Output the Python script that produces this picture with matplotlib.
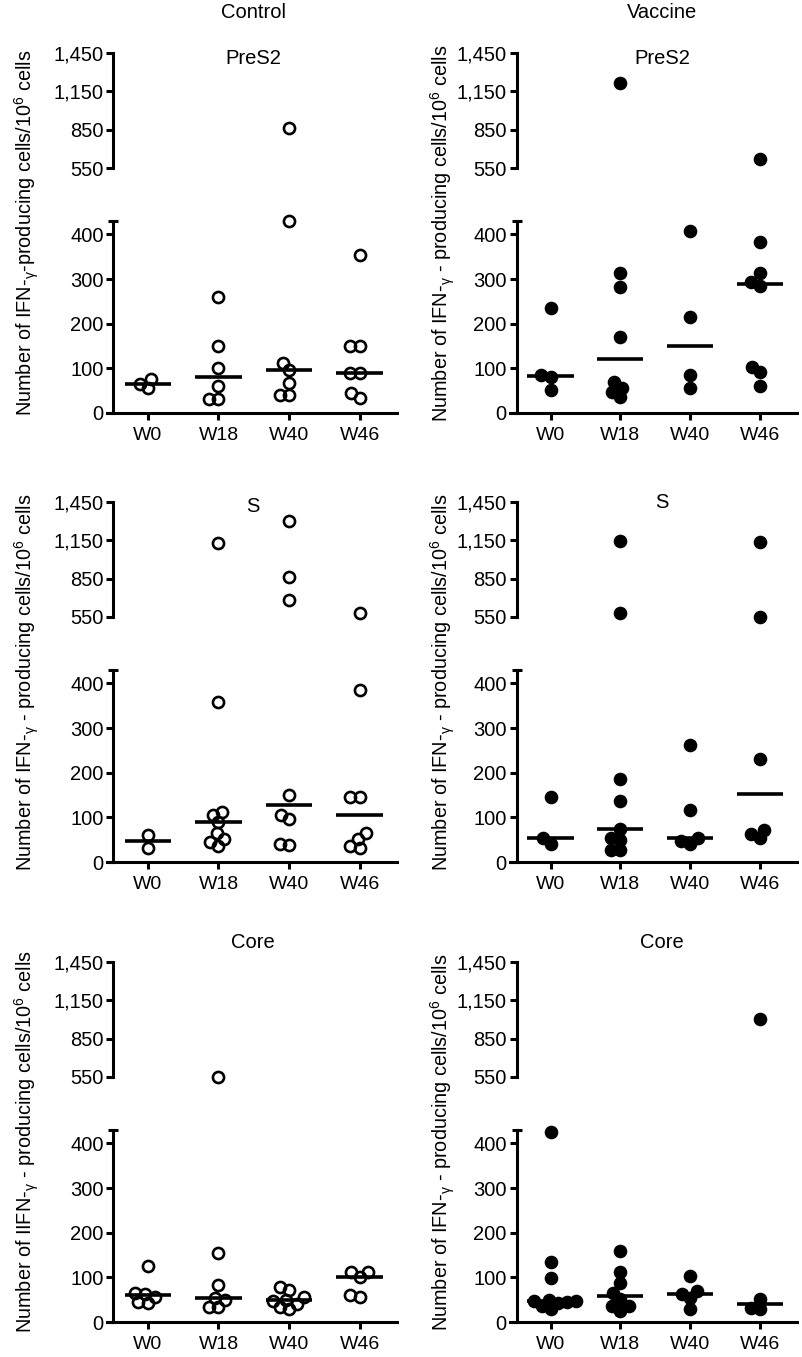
import numpy as np
import matplotlib
matplotlib.use("Agg")
import matplotlib.pyplot as plt

plt.rcParams["font.family"] = ["Liberation Sans", "DejaVu Sans"]
plt.rcParams["mathtext.fontset"] = "custom"
plt.rcParams["mathtext.rm"] = "Liberation Sans"

weeks = ["W0", "W18", "W40", "W46"]
low_ticks = [0, 100, 200, 300, 400]
high_ticks = [550, 850, 1150, 1450]
high_labels = ["550", "850", "1,150", "1,450"]

# IFN-gamma spot counts per week (W0, W18, W40, W46)
control_pres2 = [
    [76, 56, 66],
    [260, 151, 101, 60, 31, 31],
    [863, 429, 112, 96, 67, 41, 41],
    [354, 151, 151, 90, 90, 45, 34],
]
vaccine_pres2 = [
    [235, 86, 81, 51],
    [1215, 314, 283, 171, 69, 56, 46, 35],
    [407, 215, 86, 56],
    [620, 384, 314, 294, 285, 102, 91, 61],
]
control_s = [
    [61, 31],
    [1127, 359, 111, 106, 89, 65, 52, 44, 35],
    [1298, 865, 684, 151, 106, 96, 40, 37],
    [579, 385, 145, 145, 65, 52, 35, 31],
]
vaccine_s = [
    [146, 53, 41],
    [1145, 579, 186, 137, 74, 53, 49, 26, 26],
    [261, 117, 53, 47, 41],
    [1140, 550, 231, 72, 62, 53],
]
control_core = [
    [125, 65, 63, 56, 45, 43],
    [550, 155, 83, 54, 49, 34, 34],
    [78, 72, 55, 50, 48, 40, 33, 30],
    [112, 112, 101, 61, 57],
]
vaccine_core = [
    [425, 135, 99, 50, 48, 47, 45, 42, 35, 28],
    [159, 113, 88, 65, 52, 35, 35, 25],
    [103, 69, 63, 54, 29],
    [1004, 51, 31, 29],
]

label_std = "Number of IFN-$_{\\mathregular{γ}}$ - producing cells/10$^{\\mathregular{6}}$ cells"
label_tl = "Number of IFN-$_{\\mathregular{γ}}$-producing cells/10$^{\\mathregular{6}}$ cells"
label_bl = "Number of IIFN-$_{\\mathregular{γ}}$ - producing cells/10$^{\\mathregular{6}}$ cells"

panels = [
    (control_pres2, False, 0, 0, "PreS2", label_tl),
    (vaccine_pres2, True, 1, 0, "PreS2", label_std),
    (control_s, False, 0, 1, "S", label_std),
    (vaccine_s, True, 1, 1, "S", label_std),
    (control_core, False, 0, 2, "Core", label_bl),
    (vaccine_core, True, 1, 2, "Core", label_std),
]

W, H = 802, 1357
row_y0 = [413, 862, 1322]
col_x = [(107, 290), (510, 287)]
col_center = [253, 662]
sub_y = [[59, 58], [507, 502], [943, 943]]
ylab_x = [27, 443]


def swarm(ys, d):
    order = np.argsort(ys, kind="stable")
    xs = np.zeros(len(ys))
    placed = []
    for i in order:
        cands = [0.0]
        for j in placed:
            dy = ys[i] - ys[j]
            if abs(dy) < d:
                dx = np.sqrt(d * d - dy * dy)
                cands += [xs[j] - dx, xs[j] + dx]
        cands.sort(key=abs)
        for c in cands:
            ok = all((c - xs[j]) ** 2 + (ys[i] - ys[j]) ** 2 >= d * d - 1e-6 for j in placed)
            if ok:
                xs[i] = c
                break
        placed.append(i)
    return xs


fig = plt.figure(figsize=(W / 100, H / 100), dpi=100)

for data, filled, col, row, antigen, ylab in panels:
    x0, w = col_x[col]
    y0 = row_y0[row]
    ax_lo = fig.add_axes([x0 / W, (H - y0) / H, w / W, 192 / H])
    ax_hi = fig.add_axes([x0 / W, (H - y0 + 245) / H, w / W, 115 / H])

    for ax in (ax_lo, ax_hi):
        ax.set_xlim(-0.58, 3.53)
        ax.patch.set_visible(False)
        ax.spines["top"].set_visible(False)
        ax.spines["right"].set_visible(False)
        ax.spines["left"].set_position(("axes", 6.5 / w))
        ax.spines["left"].set_linewidth(2.2)
        ax.tick_params(axis="y", direction="out", length=5, width=2.2, labelsize=14.5, pad=2)

    ax_lo.set_ylim(0, 430)
    ax_lo.set_yticks(low_ticks)
    ax_lo.set_yticks([430], minor=True)
    ax_lo.tick_params(axis="y", which="minor", direction="inout", length=7, width=2.2)
    ax_lo.spines["bottom"].set_linewidth(2.2)
    ax_lo.set_xticks(range(len(weeks)))
    ax_lo.set_xticklabels(weeks)
    ax_lo.tick_params(axis="x", direction="out", length=5, width=2.2, labelsize=14, pad=5)

    ax_hi.set_ylim(550, 1450)
    ax_hi.set_yticks(high_ticks)
    ax_hi.set_yticklabels(high_labels)
    ax_hi.spines["bottom"].set_visible(False)
    ax_hi.set_xticks([])

    ppu = ax_lo.transData.transform((1, 0))[0] - ax_lo.transData.transform((0, 0))[0]

    if filled:
        mk = dict(marker="o", ms=8.8, mfc="black", mec="black", mew=1.0, ls="none")
    else:
        mk = dict(marker="o", ms=8.0, mfc="none", mec="black", mew=1.9, ls="none")

    for i, vals in enumerate(data):
        vals = np.array(vals, dtype=float)
        high = vals >= 540
        ypx = np.array([
            (ax_hi if h else ax_lo).transData.transform((0, v))[1]
            for v, h in zip(vals, high)
        ])
        offs = swarm(ypx, 9.5) / ppu
        xs = i + offs
        ax_lo.plot(xs[~high], vals[~high], clip_on=False, zorder=4, **mk)
        ax_hi.plot(xs[high], vals[high], clip_on=False, zorder=4, **mk)
        med = np.median(vals)
        ax_lo.plot([i - 0.33, i + 0.33], [med, med], color="black", lw=2.6,
                   solid_capstyle="butt", zorder=5)

    fig.text(col_center[col] / W, 1 - sub_y[row][col] / H, antigen,
             ha="center", va="center", fontsize=14.5)
    fig.text(ylab_x[col] / W, 1 - (y0 - 180) / H, ylab, rotation=90,
             ha="center", va="center", fontsize=14.3)

fig.text(col_center[0] / W, 1 - 13 / H, "Control", ha="center", va="center", fontsize=14.5)
fig.text(col_center[1] / W, 1 - 13 / H, "Vaccine", ha="center", va="center", fontsize=14.5)

fig.savefig("out.png", dpi=100)
